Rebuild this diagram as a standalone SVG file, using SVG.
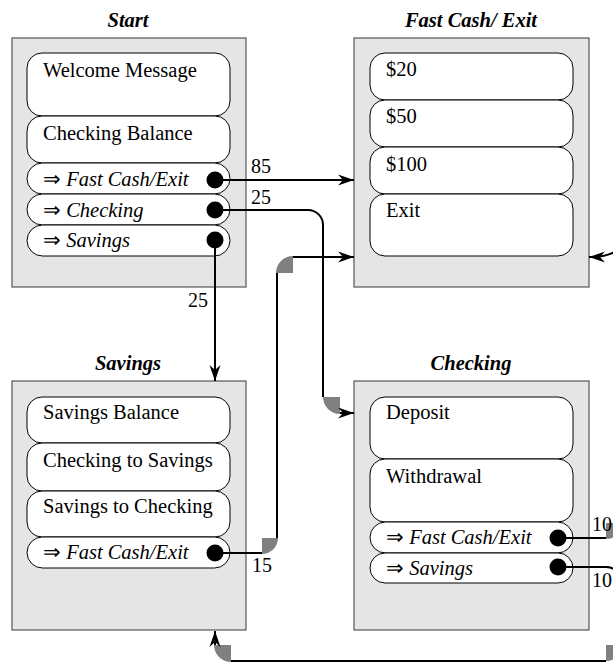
<svg xmlns="http://www.w3.org/2000/svg" width="613" height="663" viewBox="0 0 613 663">
<style>
.box{fill:#e5e5e5;stroke:#555;stroke-width:1.2}
.item{fill:#fff;stroke:#000;stroke-width:1}
.t{font-family:"Liberation Serif","Times New Roman",serif;font-size:20.5px;fill:#000}
.i{font-style:italic}
.title{font-family:"Liberation Serif","Times New Roman",serif;font-size:20.5px;font-weight:bold;font-style:italic;text-anchor:middle}
.dot{fill:#000}
.c{fill:none;stroke:#000;stroke-width:2}
.g{fill:#808080;stroke:none}
.lbl{font-family:"Liberation Serif","Times New Roman",serif;font-size:20px;fill:#000}
</style>
<defs>
<marker id="arr" markerUnits="userSpaceOnUse" markerWidth="20" markerHeight="14" viewBox="-17 -7 18 14" refX="0" refY="0" orient="auto">
<path d="M0,0 L-16,-5.5 L-11,0 L-16,5.5 Z" fill="#000"/>
</marker>
</defs>
<rect width="613" height="663" fill="#fff"/>
<g id="start">
<text class="title" x="128" y="27">Start</text>
<rect class="box" x="12" y="38" width="234" height="249"/>
<rect class="item" x="27" y="53" width="203" height="63" rx="15"/>
<rect class="item" x="27" y="116" width="203" height="47" rx="15"/>
<rect class="item" x="27" y="163" width="203" height="31" rx="15.5"/>
<rect class="item" x="27" y="194" width="203" height="31" rx="15.5"/>
<rect class="item" x="27" y="225" width="203" height="31" rx="15.5"/>
<text class="t" x="43" y="77">Welcome Message</text>
<text class="t" x="43" y="140">Checking Balance</text>
<text class="t" x="43" y="186">⇒ <tspan class="i">Fast Cash/Exit</tspan></text>
<text class="t" x="43" y="217">⇒ <tspan class="i">Checking</tspan></text>
<text class="t" x="43" y="247">⇒ <tspan class="i">Savings</tspan></text>
<circle class="dot" cx="215" cy="180" r="8.5"/>
<circle class="dot" cx="215" cy="210" r="8.5"/>
<circle class="dot" cx="215" cy="240" r="8.5"/>
</g>
<g id="fastcash">
<text class="title" x="471" y="27">Fast Cash/ Exit</text>
<rect class="box" x="354" y="38" width="235" height="249"/>
<rect class="item" x="370" y="53" width="203" height="47" rx="15"/>
<rect class="item" x="370" y="100" width="203" height="47" rx="15"/>
<rect class="item" x="370" y="147" width="203" height="47" rx="15"/>
<rect class="item" x="370" y="194" width="203" height="62" rx="15"/>
<text class="t" x="386" y="76">$20</text>
<text class="t" x="386" y="123">$50</text>
<text class="t" x="386" y="171">$100</text>
<text class="t" x="386" y="217">Exit</text>
</g>
<g id="savings">
<text class="title" x="128" y="370">Savings</text>
<rect class="box" x="12" y="381" width="234" height="249"/>
<rect class="item" x="27" y="397" width="203" height="46" rx="15"/>
<rect class="item" x="27" y="443" width="203" height="48" rx="15"/>
<rect class="item" x="27" y="491" width="203" height="46" rx="15"/>
<rect class="item" x="27" y="537" width="203" height="31" rx="15.5"/>
<text class="t" x="43" y="419">Savings Balance</text>
<text class="t" x="43" y="467">Checking to Savings</text>
<text class="t" x="43" y="513">Savings to Checking</text>
<text class="t" x="43" y="559">⇒ <tspan class="i">Fast Cash/Exit</tspan></text>
<circle class="dot" cx="215" cy="553" r="8.5"/>
</g>
<g id="checking">
<text class="title" x="471" y="370">Checking</text>
<rect class="box" x="354" y="381" width="235" height="249"/>
<rect class="item" x="370" y="397" width="203" height="62" rx="15"/>
<rect class="item" x="370" y="459" width="203" height="63" rx="15"/>
<rect class="item" x="370" y="522" width="203" height="31" rx="15.5"/>
<rect class="item" x="370" y="553" width="203" height="30" rx="15"/>
<text class="t" x="386" y="419">Deposit</text>
<text class="t" x="386" y="483">Withdrawal</text>
<text class="t" x="386" y="544">⇒ <tspan class="i">Fast Cash/Exit</tspan></text>
<text class="t" x="386" y="575">⇒ <tspan class="i">Savings</tspan></text>
<circle class="dot" cx="558" cy="538" r="8.5"/>
<circle class="dot" cx="558" cy="567" r="8.5"/>
</g>
<g id="connectors">
<path class="c" d="M223,180 H354" marker-end="url(#arr)"/>
<text class="lbl" x="251" y="173">85</text>
<path class="c" d="M223,210 H308 A15,15 0 0 1 323,225 V397"/>
<path class="g" d="M323,397 A17,17 0 0 0 340,414 L340,397 Z"/>
<path class="c" d="M340,413 H354" marker-end="url(#arr)"/>
<text class="lbl" x="251" y="204">25</text>
<path class="c" d="M215,248 V381" marker-end="url(#arr)"/>
<text class="lbl" x="188" y="307">25</text>
<path class="c" d="M223,553 H262"/>
<path class="g" d="M262,554 A16,16 0 0 0 278,538 L262,538 Z"/>
<path class="c" d="M277,538 V273"/>
<path class="g" d="M276,273 A17,17 0 0 1 293,256 L293,273 Z"/>
<path class="c" d="M293,257 H354" marker-end="url(#arr)"/>
<text class="lbl" x="252" y="572">15</text>
<path class="c" d="M566,538 H606"/>
<path class="g" d="M606,539 A16,16 0 0 0 622,523 L606,523 Z"/>
<path class="c" d="M614,252.5 Q604,256.5 596,257 H589" marker-end="url(#arr)"/>
<text class="lbl" x="592" y="531">10</text>
<path class="c" d="M566,567 H606 A16,16 0 0 1 622,583 V645"/>
<path class="g" d="M622,645 A16,16 0 0 1 606,661 L606,645 Z"/>
<path class="c" d="M606,661 H231"/>
<path class="g" d="M231,662 A17,17 0 0 1 214,645 L231,645 Z"/>
<path class="c" d="M215,645 V631" marker-end="url(#arr)"/>
<text class="lbl" x="592" y="587">10</text>
</g>
</svg>
